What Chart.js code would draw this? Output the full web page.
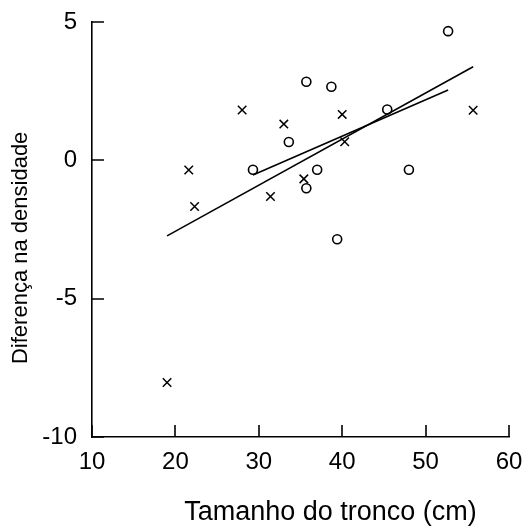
<!DOCTYPE html>
<html>
<head>
<meta charset="utf-8">
<script src="https://cdn.jsdelivr.net/npm/chart.js@4"></script>
<style>
  html, body { margin: 0; padding: 0; background: #fff; }
  #wrap { width: 526px; height: 528px; }
</style>
</head>
<body>
<div id="wrap"><canvas id="scatter_canvas" width="526" height="528"></canvas></div>
<script>
// circles (o)
const circleX = [52.7, 35.7, 38.7, 45.4, 33.6, 29.3, 37.0, 48.0, 35.7, 39.4];
const circleY = [4.67, 2.84, 2.66, 1.84, 0.66, -0.34, -0.34, -0.34, -1.01, -2.85];
// crosses (x)
const crossX = [28.0, 40.0, 55.7, 33.0, 40.3, 21.6, 35.4, 31.4, 22.3, 19.0];
const crossY = [1.82, 1.66, 1.81, 1.31, 0.67, -0.35, -0.67, -1.31, -1.67, -8.03];
// fitted lines, end points
const circleLineX = [29.3, 52.7];
const circleLineY = [-0.53, 2.54];
const crossLineX = [19.0, 55.7];
const crossLineY = [-2.73, 3.38];

const xTitle = "Tamanho do tronco (cm)";
const yTitle = "Diferença na densidade";

function pts(xs, ys) {
    return xs.map((x, i) => ({ x: x, y: ys[i] }));
}

const font = "'Liberation Sans', Arial, sans-serif";

// tick marks pointing into the plot
const innerTicks = {
    id: "innerTicks",
    afterDatasetsDraw(chart) {
        const c = chart.ctx;
        const xs = chart.scales.x, ys = chart.scales.y;
        const len = 12;
        c.save();
        c.strokeStyle = "#000";
        c.lineWidth = 1.6;
        c.beginPath();
        xs.ticks.forEach(t => {
            const px = Math.round(xs.getPixelForValue(t.value));
            c.moveTo(px, xs.top);
            c.lineTo(px, xs.top - len);
        });
        ys.ticks.forEach(t => {
            const py = Math.round(ys.getPixelForValue(t.value));
            c.moveTo(ys.right, py);
            c.lineTo(ys.right + len, py);
        });
        c.stroke();
        c.restore();
    }
};

const ctx = document.getElementById("scatter_canvas");
var theChart = new Chart(ctx, {
    type: "scatter",
    data: {
        datasets: [
            {
                label: "o",
                data: pts(circleX, circleY),
                pointStyle: "circle",
                pointRadius: 4.5,
                borderWidth: 1.6,
                borderColor: "#000",
                backgroundColor: "rgba(0,0,0,0)"
            },
            {
                label: "x",
                data: pts(crossX, crossY),
                pointStyle: "crossRot",
                pointRadius: 6,
                borderWidth: 1.5,
                borderColor: "#000"
            },
            {
                type: "line",
                label: "fit o",
                data: pts(circleLineX, circleLineY),
                showLine: true,
                pointRadius: 0,
                borderWidth: 1.6,
                borderColor: "#000",
                fill: false
            },
            {
                type: "line",
                label: "fit x",
                data: pts(crossLineX, crossLineY),
                showLine: true,
                pointRadius: 0,
                borderWidth: 1.6,
                borderColor: "#000",
                fill: false
            }
        ]
    },
    options: {
        responsive: false,
        animation: false,
        layout: { padding: { left: 0, top: 22, right: 17, bottom: 0 } },
        plugins: {
            legend: { display: false },
            tooltip: { enabled: false }
        },
        scales: {
            x: {
                type: "linear",
                min: 10, max: 60,
                border: { display: true, color: "#000", width: 1.6 },
                grid: { display: false, drawTicks: false },
                ticks: { stepSize: 10, padding: 11, color: "#000", font: { family: font, size: 24 } },
                title: {
                    display: true,
                    text: "        " + xTitle,
                    color: "#000",
                    font: { family: font, size: 27 },
                    padding: { top: 0, bottom: -1 }
                },
                afterFit: function(scale) {
                    scale.height = 91;
                    scale.paddingLeft = 0;
                    scale.paddingRight = 0;
                }
            },
            y: {
                type: "linear",
                min: -10, max: 5,
                border: { display: true, color: "#000", width: 1.6 },
                grid: { display: false, drawTicks: false },
                ticks: { stepSize: 5, padding: 15, color: "#000", font: { family: font, size: 24 } },
                title: {
                    display: true,
                    text: yTitle + "      ",
                    color: "#000",
                    font: { family: font, size: 22 },
                    padding: { top: 8 }
                },
                afterFit: function(scale) {
                    scale.width = 92;
                    scale.paddingTop = 0;
                    scale.paddingBottom = 0;
                }
            }
        }
    },
    plugins: [innerTicks]
});
</script>
</body>
</html>
